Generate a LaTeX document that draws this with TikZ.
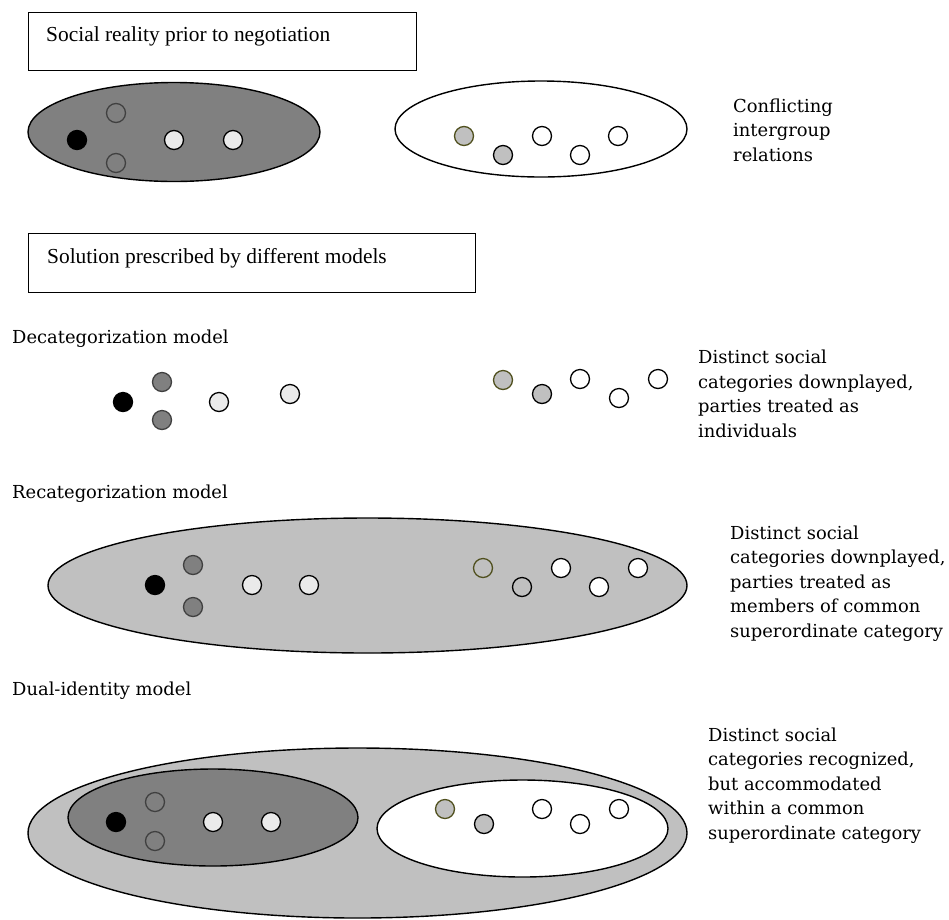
\documentclass[tikz,border=0pt]{standalone}
\usepackage{fontspec}
\setmainfont{Liberation Serif}
\newfontfamily\cam{DejaVu Serif}
\usetikzlibrary{shapes.geometric}
\definecolor{dgray}{RGB}{128,128,128}
\definecolor{lgray}{RGB}{192,192,192}
\definecolor{pale}{RGB}{234,234,234}
\definecolor{olive}{RGB}{80,80,30}
\definecolor{ring}{RGB}{64,64,64}
\tikzset{
  grp/.style={ellipse, draw=black, line width=1.4pt, inner sep=0pt},
  dot/.style={circle, minimum size=19pt, inner sep=0pt, line width=1.3pt},
  blk/.style={dot, fill=black, draw=black},
  hollow/.style={dot, draw=ring},
  midg/.style={dot, fill=dgray, draw=ring},
  paled/.style={dot, fill=pale, draw=black},
  oliv/.style={dot, fill=lgray, draw=olive},
  olivo/.style={dot, draw=olive},
  greyd/.style={dot, fill=lgray, draw=black},
  whited/.style={dot, fill=white, draw=black},
  ringo/.style={dot, draw=black},
  boxt/.style={draw=black, line width=1pt},
  ttl/.style={anchor=base west, inner sep=0pt, font=\fontsize{21.4}{25}\selectfont},
  lbl/.style={anchor=base west, inner sep=0pt, font=\cam\fontsize{17.9}{24.5}\selectfont},
  desc/.style={anchor=base west, inner sep=0pt, align=left, font=\cam\fontsize{17.9}{24.5}\selectfont}
}
\begin{document}
\begin{tikzpicture}[x=1pt,y=-1pt]
\useasboundingbox[fill=white] (0,0) rectangle (949,919);
% boxes
\node[boxt, minimum width=388pt, minimum height=58pt, anchor=north west] (box1) at (28,12) {};
\node[ttl] (t1) at (46,41) {Social reality prior to negotiation};
\node[boxt, minimum width=447pt, minimum height=59pt, anchor=north west] (box2) at (28,233) {};
\node[ttl] (t2) at (47,263) {Solution prescribed by different models};
% row 1
\node[grp, fill=dgray, minimum width=292pt, minimum height=99pt] (e1) at (174,132) {};
\node[grp, fill=white, minimum width=292pt, minimum height=96pt] (e2) at (541,129) {};
\node[blk] (a1) at (77,140) {};
\node[hollow] (a2) at (116,113) {};
\node[hollow] (a3) at (116,163) {};
\node[paled] (a4) at (174,140) {};
\node[paled] (a5) at (233,140) {};
\node[oliv] (b1) at (464,136) {};
\node[greyd] (b2) at (503,155) {};
\node[whited] (b3) at (542,136) {};
\node[whited] (b4) at (580,155) {};
\node[whited] (b5) at (618,136) {};
\node[desc] (d1) at (733,161) {Conflicting\\intergroup\\relations};
% decategorization
\node[lbl] (l2) at (12,343) {Decategorization model};
\node[blk] (c1) at (123,402) {};
\node[midg] (c2) at (162,382) {};
\node[midg] (c3) at (162,420) {};
\node[paled] (c4) at (219,402) {};
\node[paled] (c5) at (290,394) {};
\node[oliv] (f1) at (503,380) {};
\node[greyd] (f2) at (542,394) {};
\node[whited] (f3) at (580,379) {};
\node[whited] (f4) at (619,398) {};
\node[whited] (f5) at (658,379) {};
\node[desc] (d2) at (698,437) {Distinct social\\categories downplayed,\\parties treated as\\individuals};
% recategorization
\node[lbl] (l3) at (12,498) {Recategorization model};
\node[grp, fill=lgray, minimum width=639pt, minimum height=135pt] (e3) at (367.5,585.5) {};
\node[blk] (g1) at (155,585) {};
\node[midg] (g2) at (193,565) {};
\node[midg] (g3) at (193,607) {};
\node[paled] (g4) at (252,585) {};
\node[paled] (g5) at (309,585) {};
\node[olivo] (h1) at (483,568) {};
\node[ringo] (h2) at (522,587) {};
\node[whited] (h3) at (561,568) {};
\node[whited] (h4) at (599,587) {};
\node[whited] (h5) at (638,568) {};
\node[desc] (d3) at (730,637) {Distinct social\\categories downplayed,\\parties treated as\\members of common\\superordinate category};
% dual identity
\node[lbl] (l4) at (12,695) {Dual-identity model};
\node[grp, fill=lgray, minimum width=659pt, minimum height=170pt] (e4) at (357.5,833) {};
\node[grp, fill=dgray, minimum width=290pt, minimum height=97pt] (e5) at (213,817.5) {};
\node[grp, fill=white, minimum width=291pt, minimum height=97pt] (e6) at (522.5,828.5) {};
\node[blk] (k1) at (116,822) {};
\node[hollow] (k2) at (155,802) {};
\node[hollow] (k3) at (155,841) {};
\node[paled] (k4) at (213,822) {};
\node[paled] (k5) at (271,822) {};
\node[oliv] (m1) at (445,809) {};
\node[greyd] (m2) at (484,824) {};
\node[whited] (m3) at (542,809) {};
\node[whited] (m4) at (580,824) {};
\node[whited] (m5) at (619,809) {};
\node[desc] (d4) at (708,839) {Distinct social\\categories recognized,\\but accommodated\\within a common\\superordinate category};
\end{tikzpicture}
\end{document}
